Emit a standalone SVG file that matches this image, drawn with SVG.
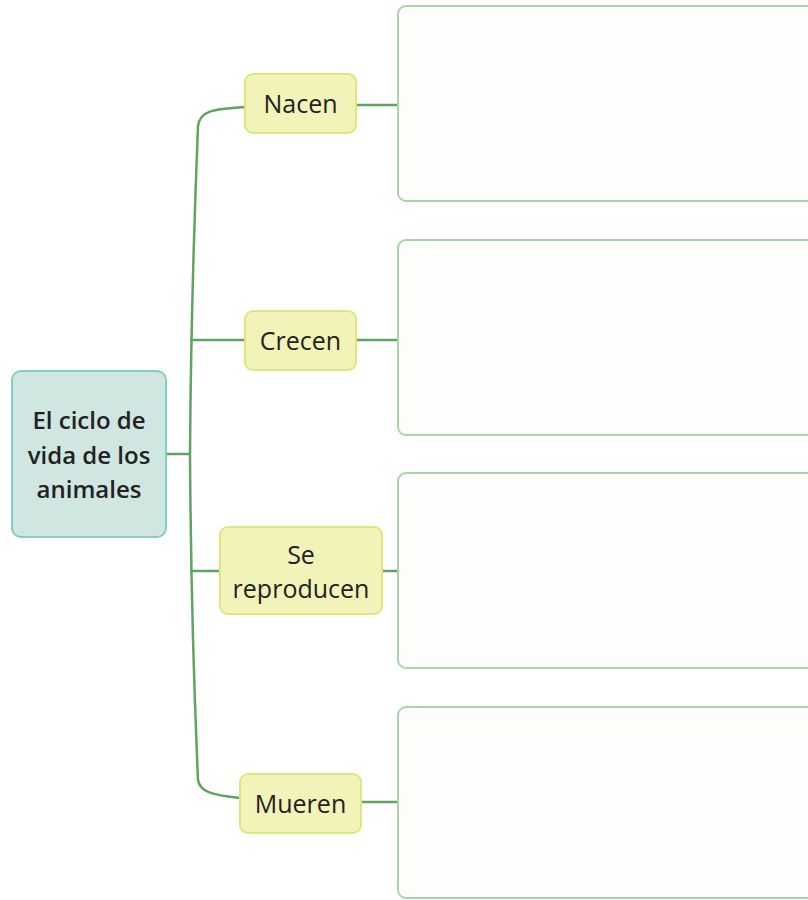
<svg xmlns="http://www.w3.org/2000/svg" width="808" height="900" viewBox="0 0 808 900">
<style>
.root{fill:#cfe6e1;stroke:#86cbc6;stroke-width:2}
.sub{fill:#f2f3b8;stroke:#dfe67f;stroke-width:2}
.box{fill:#fdfdfb;stroke:#a9d6a9;stroke-width:2}
.con{fill:none;stroke:#5fa45f;stroke-width:2.5}
text{font-family:"Open Sans","Noto Sans",sans-serif;font-size:25px;fill:#222;text-anchor:middle}
.rt{font-weight:600;font-size:24px}
.st{font-weight:500}
</style>
<rect width="808" height="900" fill="#ffffff"/>
<g id="connectors">
<path class="con" d="M166,454 L190,454"/>
<path class="con" d="M245,107 C212,109 200,111 198,126 Q191,300 190,454 Q191,620 198,780 C200,792 212,795 240,798"/>
<path class="con" d="M190,340 L245,340"/>
<path class="con" d="M190,571 L220,571"/>
<path class="con" d="M356,105 L398,105"/>
<path class="con" d="M356,340 L398,340"/>
<path class="con" d="M382,571 L398,571"/>
<path class="con" d="M361,802 L398,802"/>
</g>
<g id="root">
<rect class="root" x="12" y="371" width="154" height="166" rx="9"/>
<text class="rt" x="89" y="429">El ciclo de</text>
<text class="rt" x="89" y="464">vida de los</text>
<text class="rt" x="89" y="498">animales</text>
</g>
<g id="nacen">
<rect class="sub" x="245" y="74" width="111" height="59" rx="8"/>
<text class="st" x="300.5" y="113">Nacen</text>
</g>
<g id="crecen">
<rect class="sub" x="245" y="311" width="111" height="59" rx="8"/>
<text class="st" x="300.5" y="350">Crecen</text>
</g>
<g id="reproducen">
<rect class="sub" x="220" y="527" width="162" height="87" rx="8"/>
<text class="st" x="301" y="564">Se</text>
<text class="st" x="301" y="598">reproducen</text>
</g>
<g id="mueren">
<rect class="sub" x="240" y="774" width="121" height="59" rx="8"/>
<text class="st" x="300.5" y="813">Mueren</text>
</g>
<g id="box1"><rect class="box" x="398" y="6" width="430" height="195" rx="8"/></g>
<g id="box2"><rect class="box" x="398" y="240" width="430" height="195" rx="8"/></g>
<g id="box3"><rect class="box" x="398" y="473" width="430" height="195" rx="8"/></g>
<g id="box4"><rect class="box" x="398" y="707" width="430" height="191" rx="8"/></g>
</svg>
